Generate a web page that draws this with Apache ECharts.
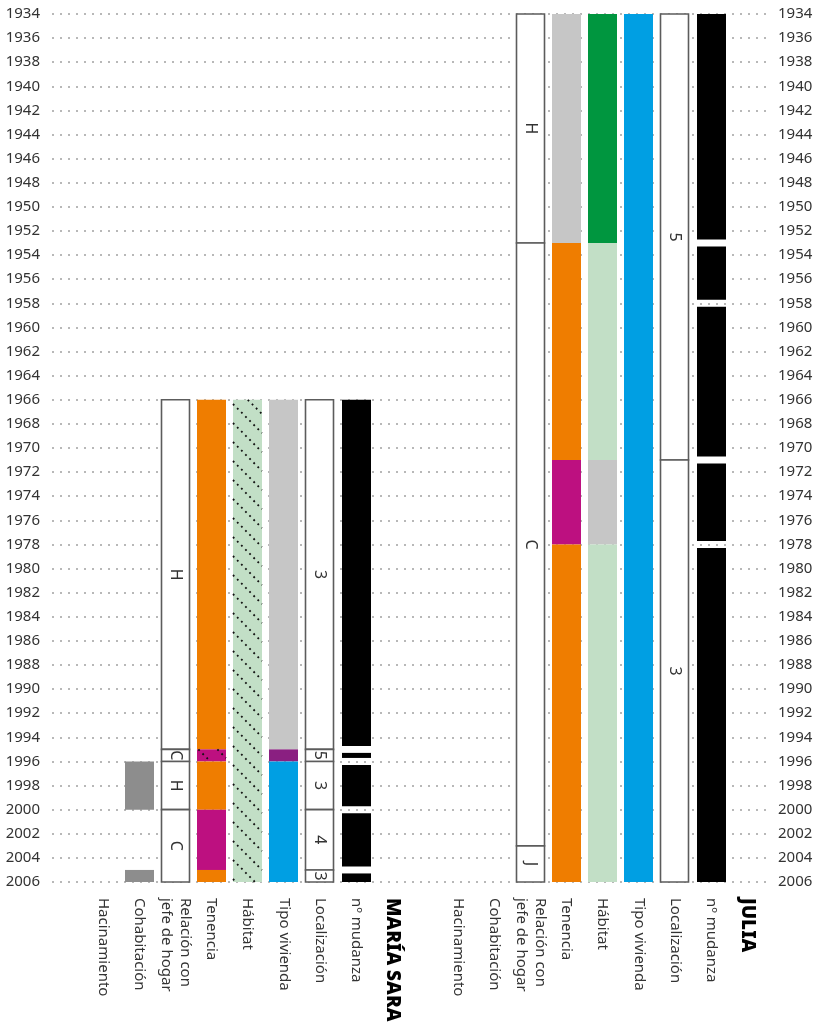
<!DOCTYPE html>
<html>
<head>
<meta charset="utf-8">
<script src="https://cdn.jsdelivr.net/npm/echarts@6/dist/echarts.min.js"></script>
<style>
  html, body { margin: 0; padding: 0; background: #fff; }
  #chart { width: 820px; height: 1027px; }
</style>
</head>
<body>
<div id="chart"></div>
<script>
// Year range of the timeline (vertical axis, earliest year on top)
const yearMin = 1934;
const yearMax = 2006;
const yearStep = 2;

// Column headings for each person (last entry is the person's name)
const columnsMariaSara = ['Hacinamiento', 'Cohabitación', 'Relación con\njefe de hogar', 'Tenencia', 'Hábitat', 'Tipo vivienda', 'Localización', 'nº mudanza', 'MARÍA SARA'];
const columnsJulia = ['Hacinamiento', 'Cohabitación', 'Relación con\njefe de hogar', 'Tenencia', 'Hábitat', 'Tipo vivienda', 'Localización', 'nº mudanza', 'JULIA'];

// María Sara — periods as [from, to, code]
const msHacinamiento = [];
const msCohabitacion = [[1996, 2000, 'S'], [2005, 2006, 'S']];
const msRelacion = [[1966, 1995, 'H'], [1995, 1996, 'C'], [1996, 2000, 'H'], [2000, 2006, 'C']];
const msTenencia = [[1966, 1995, 'T1'], [1995, 1996, 'T2*'], [1996, 2000, 'T1'], [2000, 2005, 'T2'], [2005, 2006, 'T1']];
const msHabitat = [[1966, 2006, 'G2*']];
const msTipoVivienda = [[1966, 1995, 'V0'], [1995, 1996, 'V1'], [1996, 2006, 'V2']];
const msLocalizacion = [[1966, 1995, '3'], [1995, 1996, '5'], [1996, 2000, '3'], [2000, 2005, '4'], [2005, 2006, '3']];
const msMudanzas = [1966, 1995, 1996, 2000, 2005, 2006];

// Julia — periods as [from, to, code]
const julHacinamiento = [];
const julCohabitacion = [];
const julRelacion = [[1934, 1953, 'H'], [1953, 2003, 'C'], [2003, 2006, 'J']];
const julTenencia = [[1934, 1953, 'T0'], [1953, 1971, 'T1'], [1971, 1978, 'T2'], [1978, 2006, 'T1']];
const julHabitat = [[1934, 1953, 'G1'], [1953, 1971, 'G2'], [1971, 1978, 'G0'], [1978, 2006, 'G2']];
const julTipoVivienda = [[1934, 2006, 'V2']];
const julLocalizacion = [[1934, 1971, '5'], [1971, 2006, '3']];
const julMudanzas = [1934, 1953, 1958, 1971, 1978, 2006];

// Fill colours by code
const palette = {
  S: '#8d8d8d',
  T0: '#c6c6c6', T1: '#ef7d00', T2: '#bd1080',
  G0: '#c6c6c6', G1: '#00963f', G2: '#c2dfc6',
  V0: '#c6c6c6', V1: '#8a1f81', V2: '#009fe3'
};

// Turn one person's arrays into drawable segments
function buildSegments(p) {
  const segs = [];
  const addFill = (col, list) => list.forEach(([a, b, code]) => {
    const hatch = code.endsWith('*');
    const key = hatch ? code.slice(0, -1) : code;
    segs.push({ col, y0: a, y1: b, kind: 'fill', color: palette[key], hatch });
  });
  const addBox = (col, list) => list.forEach(([a, b, code]) => {
    segs.push({ col, y0: a, y1: b, kind: 'box', label: code });
  });
  addFill(0, p.hacinamiento);
  addFill(1, p.cohabitacion);
  addBox(2, p.relacion);
  addFill(3, p.tenencia);
  addFill(4, p.habitat);
  addFill(5, p.vivienda);
  addBox(6, p.localizacion);
  for (let i = 0; i < p.mudanzas.length - 1; i++) {
    segs.push({ col: 7, y0: p.mudanzas[i], y1: p.mudanzas[i + 1], kind: 'move',
      first: i === 0, last: i === p.mudanzas.length - 2 });
  }
  return segs;
}

const segMariaSara = buildSegments({
  hacinamiento: msHacinamiento, cohabitacion: msCohabitacion, relacion: msRelacion,
  tenencia: msTenencia, habitat: msHabitat, vivienda: msTipoVivienda,
  localizacion: msLocalizacion, mudanzas: msMudanzas
});
const segJulia = buildSegments({
  hacinamiento: julHacinamiento, cohabitacion: julCohabitacion, relacion: julRelacion,
  tenencia: julTenencia, habitat: julHabitat, vivienda: julTipoVivienda,
  localizacion: julLocalizacion, mudanzas: julMudanzas
});

const BAR_W = 29;
const MOVE_GAP = 3.5;
const HATCH_STEP = 19;
const labelFont = '"Noto Sans", sans-serif';

// Dotted diagonal hatching clipped to a rectangle
function hatchLines(x0, y0, x1, y1) {
  const lines = [];
  const cMin = Math.floor((y0 - x1) / HATCH_STEP) * HATCH_STEP;
  const cMax = y1 - x0;
  for (let c = cMin; c <= cMax; c += HATCH_STEP) {
    const xs = Math.max(x0, y0 - c);
    const xe = Math.min(x1, y1 - c);
    if (xe - xs > 0.5) {
      lines.push({
        type: 'line',
        shape: { x1: xs, y1: xs + c, x2: xe, y2: xe + c },
        style: { stroke: '#111', lineWidth: 1.8, lineDash: [1.8, 4] },
        silent: true
      });
    }
  }
  return lines;
}

function makeRenderer(segs) {
  return function (params, api) {
    const s = segs[params.dataIndex];
    const p0 = api.coord([s.col, s.y0]);
    const p1 = api.coord([s.col, s.y1]);
    const x = Math.round(p0[0] - BAR_W / 2);
    let top = p0[1];
    let bot = p1[1];
    if (s.kind === 'move') {
      if (!s.first) top += MOVE_GAP;
      if (!s.last) bot -= MOVE_GAP;
      return { type: 'rect', shape: { x, y: top, width: BAR_W, height: bot - top }, style: { fill: '#000' } };
    }
    if (s.kind === 'box') {
      return {
        type: 'group',
        children: [
          { type: 'rect', shape: { x: x + 0.5, y: top, width: BAR_W - 1, height: bot - top },
            style: { fill: '#fff', stroke: '#5c5c5c', lineWidth: 1.6 } },
          { type: 'text', x: x + BAR_W / 2, y: (top + bot) / 2, rotation: -Math.PI / 2,
            style: { text: s.label, fill: '#333', font: '16px "Noto Sans"', align: 'center', verticalAlign: 'middle' } }
        ]
      };
    }
    const children = [{ type: 'rect', shape: { x, y: top, width: BAR_W, height: bot - top }, style: { fill: s.color } }];
    if (s.hatch) children.push(...hatchLines(x, top, x + BAR_W, bot));
    return { type: 'group', children };
  };
}

// Category data: column headings in regular text, the name in heavy bold
function categoryData(cols) {
  return cols.map((v, i) => i === cols.length - 1
    ? { value: v, textStyle: { fontSize: 19, fontWeight: 900, color: '#000' } }
    : v);
}

function personXAxis(gridIndex, cols) {
  return {
    type: 'category', gridIndex, data: categoryData(cols), position: 'bottom',
    axisLine: { show: false }, axisTick: { show: false }, splitLine: { show: false },
    axisLabel: {
      interval: 0, rotate: -90, margin: 16, fontSize: 15, color: '#333', fontFamily: labelFont,
      lineHeight: 19, hideOverlap: false
    }
  };
}

function hiddenYAxis(gridIndex) {
  return { type: 'value', gridIndex, min: yearMin, max: yearMax, inverse: true, show: false };
}

const yearLabel = v => String(v);

const chart = echarts.init(document.getElementById('chart'), null, { renderer: 'canvas' });

chart.setOption({
  animation: false,
  backgroundColor: '#fff',
  grid: [
    { left: 52, right: 50, top: 14, bottom: 145 },
    { left: 85, width: 325.35, top: 14, bottom: 145 },
    { left: 440, width: 325.35, top: 14, bottom: 145 }
  ],
  xAxis: [
    { type: 'value', gridIndex: 0, min: 0, max: 1, show: false },
    personXAxis(1, columnsMariaSara),
    personXAxis(2, columnsJulia)
  ],
  yAxis: [
    {
      type: 'value', gridIndex: 0, position: 'left', min: yearMin, max: yearMax, interval: yearStep, inverse: true,
      axisLine: { show: false }, axisTick: { show: false },
      axisLabel: { margin: 12, fontSize: 15, color: '#333', fontFamily: labelFont, padding: [3, 0, 0, 0], formatter: yearLabel },
      splitLine: { show: true, lineStyle: { color: '#b8b8b8', width: 2, type: [2, 6] } }
    },
    {
      type: 'value', gridIndex: 0, position: 'right', min: yearMin, max: yearMax, interval: yearStep, inverse: true,
      axisLine: { show: false }, axisTick: { show: false }, splitLine: { show: false },
      axisLabel: { margin: 8, fontSize: 15, color: '#333', fontFamily: labelFont, padding: [3, 0, 0, 0], formatter: yearLabel }
    },
    hiddenYAxis(1),
    hiddenYAxis(2)
  ],
  series: [
    {
      type: 'custom', xAxisIndex: 1, yAxisIndex: 2, clip: false,
      renderItem: makeRenderer(segMariaSara),
      data: segMariaSara.map(s => [s.col, s.y0, s.y1])
    },
    {
      type: 'custom', xAxisIndex: 2, yAxisIndex: 3, clip: false,
      renderItem: makeRenderer(segJulia),
      data: segJulia.map(s => [s.col, s.y0, s.y1])
    }
  ]
});
</script>
</body>
</html>
